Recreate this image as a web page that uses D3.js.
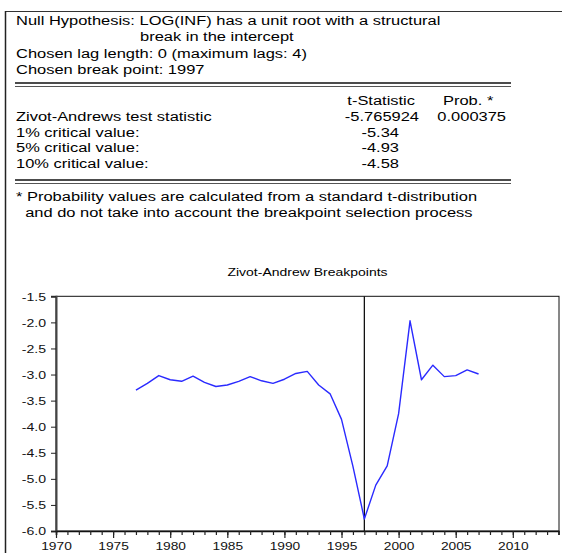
<!DOCTYPE html>
<html>
<head>
<meta charset="utf-8">
<script src="https://cdn.jsdelivr.net/npm/d3@7"></script>
<style>
  body { margin: 0; background: #fff; }
  svg { display: block; font-family: "Liberation Sans", Arial, sans-serif; }
</style>
</head>
<body>
<script>
// header block text
const headerLines = [
    {text: "Null Hypothesis: LOG(INF) has a unit root with a structural", x: 16},
    {text: "break in the intercept", x: 140},
    {text: "Chosen lag length: 0 (maximum lags: 4)", x: 16},
    {text: "Chosen break point: 1997", x: 16}
];
const rowLabels = ["Zivot-Andrews test statistic", "1% critical value:", "5% critical value:", "10% critical value:"];
const tStats = ["-5.765924", "-5.34", "-4.93", "-4.58"];
const probs = ["0.000375", "", "", ""];
const footLines = [
    "* Probability values are calculated from a standard t-distribution",
    "  and do not take into account the breakpoint selection process"
];

// breakpoint series
const years = [1977, 1978, 1979, 1980, 1981, 1982, 1983, 1984, 1985, 1986, 1987, 1988, 1989, 1990, 1991, 1992,
               1993, 1994, 1995, 1996, 1997, 1998, 1999, 2000, 2001, 2002, 2003, 2004, 2005, 2006, 2007];
const tValues = [-3.30, -3.17, -3.02, -3.10, -3.13, -3.03, -3.15, -3.23, -3.20, -3.13, -3.04, -3.12, -3.17, -3.09, -2.98, -2.94,
                 -3.20, -3.37, -3.86, -4.76, -5.77, -5.12, -4.75, -3.75, -1.97, -3.10, -2.82, -3.04, -3.02, -2.91, -2.99];
const breakYear = 1997;
const yTicks = [-1.5, -2.0, -2.5, -3.0, -3.5, -4.0, -4.5, -5.0, -5.5, -6.0];
const xMajor = [1970, 1975, 1980, 1985, 1990, 1995, 2000, 2005, 2010];

const width = 562, height = 553;
const fontSize = 13.5;
const sx = 1.22; // text in the picture is stretched sideways

const svg = d3.select("body").append("svg")
    .attr("width", width)
    .attr("height", height);

function addText(str, x, y, opts) {
    opts = opts || {};
    return svg.append("text")
        .attr("transform", `translate(${x},${y}) scale(${opts.sx || sx},1)`)
        .attr("font-size", opts.size || fontSize)
        .attr("text-anchor", opts.anchor || "start")
        .attr("fill", "#000")
        .style("white-space", "pre")
        .text(str);
}

// outer border (top + left)
svg.append("line").attr("x1", 5.5).attr("x2", width).attr("y1", 11.5).attr("y2", 11.5)
    .attr("stroke", "#333").attr("stroke-width", 1);
svg.append("line").attr("x1", 5.5).attr("x2", 5.5).attr("y1", 11).attr("y2", height)
    .attr("stroke", "#222").attr("stroke-width", 1.5);

// header
const headerY = [25, 41, 57.5, 74];
headerLines.forEach((d, i) => addText(d.text, d.x, headerY[i]));

// double rules
function doubleRule(y) {
    svg.append("line").attr("x1", 15).attr("x2", 511).attr("y1", y).attr("y2", y)
        .attr("stroke", "#111").attr("stroke-width", 1.6);
    svg.append("line").attr("x1", 15).attr("x2", 511).attr("y1", y + 3.5).attr("y2", y + 3.5)
        .attr("stroke", "#555").attr("stroke-width", 1);
}
doubleRule(83);
doubleRule(180);

// table
addText("t-Statistic", 415, 105, {anchor: "end"});
addText("Prob. *", 443, 105);
rowLabels.forEach((d, i) => {
    const y = 121 + i * 15.6;
    addText(d, 16, y);
    addText(tStats[i], i === 0 ? 419 : 399, y, {anchor: "end"});
    if (probs[i]) addText(probs[i], 506, y, {anchor: "end"});
});

footLines.forEach((d, i) => addText(d, 16, 201 + i * 16));

// chart
const plot = {left: 56, right: 559, top: 296.3, bottom: 531};

const x = d3.scaleLinear().domain([1970, 2014]).range([plot.left, 558.5]);
const y = d3.scaleLinear().domain([-6.0, -1.5]).range([plot.bottom, plot.top]);

addText("Zivot-Andrew Breakpoints", (plot.left + plot.right) / 2, 276, {size: 10, sx: 1.4, anchor: "middle"});

// frame
svg.append("rect")
    .attr("x", plot.left).attr("y", plot.top)
    .attr("width", plot.right - plot.left).attr("height", plot.bottom - plot.top)
    .attr("fill", "none").attr("stroke", "#111").attr("stroke-width", 1);

// y axis
const yAxis = svg.append("g")
    .attr("transform", `translate(${plot.left},0)`)
    .call(d3.axisLeft(y).tickValues(yTicks).tickSize(5).tickFormat(d => d.toFixed(1)));
yAxis.select(".domain").attr("stroke", "#444").attr("stroke-width", 2);
yAxis.selectAll(".tick line").attr("stroke", "#222");
yAxis.selectAll(".tick text")
    .attr("x", null).attr("dy", "0.36em")
    .attr("transform", "translate(-10,0) scale(1.28,1)")
    .attr("font-size", 11)
    .attr("font-family", "Liberation Sans, Arial, sans-serif")
    .attr("fill", "#111");

// x axis: yearly minor ticks + 5-year labelled ticks
const xMinor = svg.append("g")
    .attr("transform", `translate(0,${plot.bottom})`)
    .call(d3.axisBottom(x).tickValues(d3.range(1970, 2015)).tickSize(4).tickFormat(""));
xMinor.select(".domain").attr("stroke", "#111").attr("stroke-width", 1.5);
xMinor.selectAll(".tick line").attr("stroke", "#222").attr("stroke-width", 1.2);

const xAxis = svg.append("g")
    .attr("transform", `translate(0,${plot.bottom})`)
    .call(d3.axisBottom(x).tickValues(xMajor).tickSize(7).tickFormat(d3.format("d")));
xAxis.select(".domain").remove();
xAxis.selectAll(".tick line").attr("stroke", "#222").attr("stroke-width", 1.2);
xAxis.selectAll(".tick text")
    .attr("y", null).attr("dy", null)
    .attr("transform", "translate(0,18.5) scale(1.25,1)")
    .attr("font-size", 11)
    .attr("font-family", "Liberation Sans, Arial, sans-serif")
    .attr("fill", "#111");

// break line
svg.append("line")
    .attr("x1", x(breakYear)).attr("x2", x(breakYear))
    .attr("y1", plot.top).attr("y2", plot.bottom)
    .attr("stroke", "#111").attr("stroke-width", 1.3);

// series
const line = d3.line()
    .x((d, i) => x(years[i]))
    .y(d => y(d));

svg.append("path")
    .datum(tValues)
    .attr("fill", "none")
    .attr("stroke", "#2a2aff")
    .attr("stroke-width", 1.4)
    .attr("stroke-linejoin", "round")
    .attr("d", line);
</script>
</body>
</html>
